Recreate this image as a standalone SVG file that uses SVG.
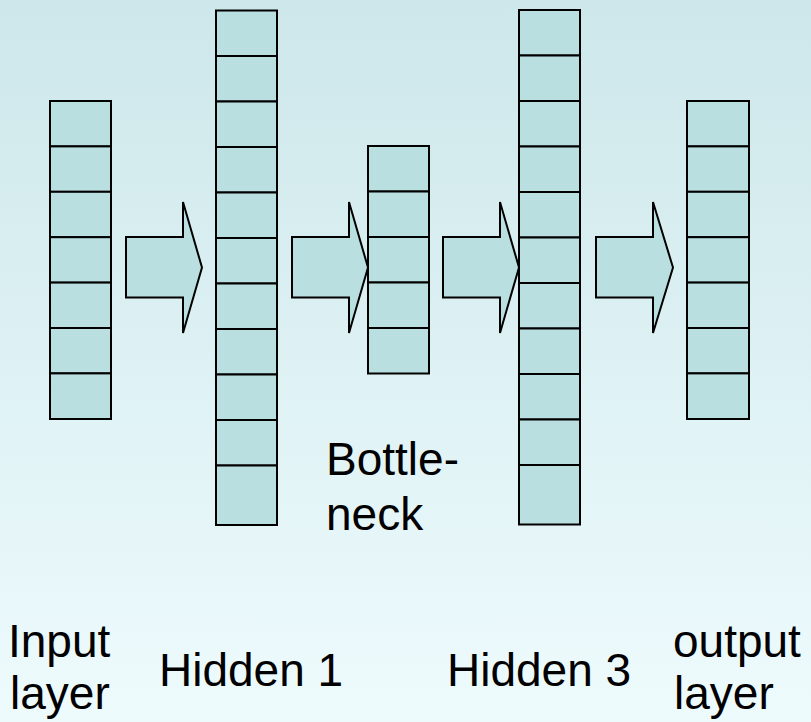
<svg xmlns="http://www.w3.org/2000/svg" width="811" height="722" viewBox="0 0 811 722">
<defs>
<linearGradient id="bg" x1="0" y1="0" x2="0" y2="1">
<stop offset="0" stop-color="#cde7ea"/>
<stop offset="1" stop-color="#eefbfd"/>
</linearGradient>
</defs>
<style>
.cell{fill:#b9dfe1;stroke:#000;stroke-width:2}
.arrow{fill:#b9dfe1;stroke:#000;stroke-width:2;stroke-linejoin:miter}
.lbl{font-family:"Liberation Sans",Arial,sans-serif;font-size:46px;fill:#000}
</style>
<rect x="0" y="0" width="811" height="722" fill="url(#bg)"/>
<g id="input-layer">
<rect class="cell" x="50" y="101" width="61" height="45.4"/>
<rect class="cell" x="50" y="146.4" width="61" height="45.4"/>
<rect class="cell" x="50" y="191.8" width="61" height="45.4"/>
<rect class="cell" x="50" y="237.2" width="61" height="45.4"/>
<rect class="cell" x="50" y="282.6" width="61" height="45.4"/>
<rect class="cell" x="50" y="328" width="61" height="45.4"/>
<rect class="cell" x="50" y="373.4" width="61" height="45.6"/>
</g>
<g id="hidden-1">
<rect class="cell" x="216" y="10.5" width="61" height="45.5"/>
<rect class="cell" x="216" y="56" width="61" height="45.5"/>
<rect class="cell" x="216" y="101.5" width="61" height="45.5"/>
<rect class="cell" x="216" y="147" width="61" height="45.5"/>
<rect class="cell" x="216" y="192.5" width="61" height="45.5"/>
<rect class="cell" x="216" y="238" width="61" height="45.5"/>
<rect class="cell" x="216" y="283.5" width="61" height="45.5"/>
<rect class="cell" x="216" y="329" width="61" height="45.5"/>
<rect class="cell" x="216" y="374.5" width="61" height="45.5"/>
<rect class="cell" x="216" y="420" width="61" height="45.5"/>
<rect class="cell" x="216" y="465.5" width="61" height="59.5"/>
</g>
<g id="bottleneck">
<rect class="cell" x="368" y="146" width="61" height="45.5"/>
<rect class="cell" x="368" y="191.5" width="61" height="45.5"/>
<rect class="cell" x="368" y="237" width="61" height="45.5"/>
<rect class="cell" x="368" y="282.5" width="61" height="45.5"/>
<rect class="cell" x="368" y="328" width="61" height="45.5"/>
</g>
<g id="hidden-3">
<rect class="cell" x="519" y="10" width="61" height="45.5"/>
<rect class="cell" x="519" y="55.5" width="61" height="45.5"/>
<rect class="cell" x="519" y="101" width="61" height="45.5"/>
<rect class="cell" x="519" y="146.5" width="61" height="45.5"/>
<rect class="cell" x="519" y="192" width="61" height="45.5"/>
<rect class="cell" x="519" y="237.5" width="61" height="45.5"/>
<rect class="cell" x="519" y="283" width="61" height="45.5"/>
<rect class="cell" x="519" y="328.5" width="61" height="45.5"/>
<rect class="cell" x="519" y="374" width="61" height="45.5"/>
<rect class="cell" x="519" y="419.5" width="61" height="45.5"/>
<rect class="cell" x="519" y="465" width="61" height="59.5"/>
</g>
<g id="output-layer">
<rect class="cell" x="687" y="101" width="62" height="45.4"/>
<rect class="cell" x="687" y="146.4" width="62" height="45.4"/>
<rect class="cell" x="687" y="191.8" width="62" height="45.4"/>
<rect class="cell" x="687" y="237.2" width="62" height="45.4"/>
<rect class="cell" x="687" y="282.6" width="62" height="45.4"/>
<rect class="cell" x="687" y="328" width="62" height="45.4"/>
<rect class="cell" x="687" y="373.4" width="62" height="45.6"/>
</g>
<g id="connectors">
<path class="arrow" d="M126,237 H183 V202 L202,267.5 L183,333 V297.5 H126 Z"/>
<path class="arrow" d="M292,237 H349 V202 L368,267.5 L349,333 V297.5 H292 Z"/>
<path class="arrow" d="M443,237 H500 V202 L519,267.5 L500,333 V297.5 H443 Z"/>
<path class="arrow" d="M596,237 H653 V202 L673,267.5 L653,333 V297.5 H596 Z"/>
</g>
<g id="labels">
<text class="lbl" x="326" y="475">Bottle-</text>
<text class="lbl" x="326" y="530">neck</text>
<text class="lbl" x="8" y="657">Input</text>
<text class="lbl" x="10" y="709">layer</text>
<text class="lbl" x="159" y="686">Hidden 1</text>
<text class="lbl" x="447" y="686">Hidden 3</text>
<text class="lbl" x="673" y="657">output</text>
<text class="lbl" x="674" y="709">layer</text>
</g>
</svg>
